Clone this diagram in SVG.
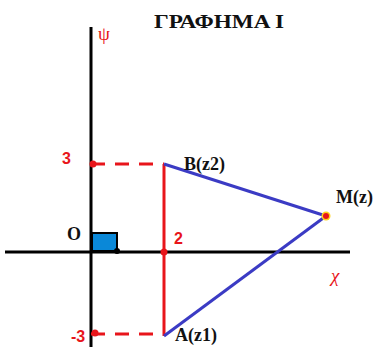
<svg xmlns="http://www.w3.org/2000/svg" width="380" height="347" viewBox="0 0 380 347">
<style>
.axis{stroke:#000;stroke-width:3}
.red{stroke:#e8151b;stroke-width:3;fill:none}
.dash{stroke:#e8151b;stroke-width:3;stroke-dasharray:14,10;fill:none}
.blue{stroke:#3b3bc4;stroke-width:3;fill:none}
.lbl{font-family:"Liberation Serif",serif;font-weight:bold;font-size:18px;fill:#111}
.rlbl{font-family:"Liberation Sans",sans-serif;font-weight:bold;font-size:16px;fill:#e8151b}
</style>
<rect width="380" height="347" fill="#fff"/>
<text x="154" y="28" class="lbl" font-size="19" textLength="130" lengthAdjust="spacingAndGlyphs">ΓΡΑΦΗΜΑ Ι</text>
<g id="axes">
<line class="axis" x1="91" y1="27" x2="91" y2="347"/>
<line class="axis" x1="5" y1="252" x2="350" y2="252"/>
<text x="98" y="40" font-family="Liberation Serif,serif" font-size="19" fill="#e8151b">ψ</text>
<text x="331" y="282" font-family="Liberation Serif,serif" font-style="italic" font-size="19" fill="#e8151b">χ</text>
</g>
<g id="origin">
<rect x="92" y="233" width="25" height="18" fill="#0a88d8" stroke="#000" stroke-width="2"/>
<circle cx="117" cy="251" r="3" fill="#000"/>
<text x="67" y="240" class="lbl">O</text>
</g>
<g id="connectors">
<line class="dash" x1="91" y1="164" x2="164" y2="164"/>
<line class="dash" x1="91" y1="334" x2="164" y2="334"/>
<line class="red" x1="164" y1="164" x2="164" y2="336"/>
<line class="blue" x1="164" y1="164" x2="326" y2="216"/>
<line class="blue" x1="164" y1="336" x2="326" y2="216"/>
</g>
<g id="B">
<circle cx="93" cy="164" r="3.5" fill="#e8151b"/>
<text x="62" y="164" class="rlbl">3</text>
<text x="184" y="170" class="lbl">B(z2)</text>
</g>
<g id="P2">
<circle cx="164" cy="252" r="3.5" fill="#e8151b"/>
<text x="174" y="244" class="rlbl">2</text>
</g>
<g id="A">
<circle cx="95" cy="333" r="3.5" fill="#e8151b"/>
<text x="71" y="342" class="rlbl">-3</text>
<text x="175" y="341" class="lbl">A(z1)</text>
</g>
<g id="M">
<circle cx="326" cy="216" r="4.5" fill="#ffd21a"/>
<circle cx="326" cy="216" r="3" fill="#e8151b"/>
<text x="336" y="203" class="lbl">M(z)</text>
</g>
</svg>
